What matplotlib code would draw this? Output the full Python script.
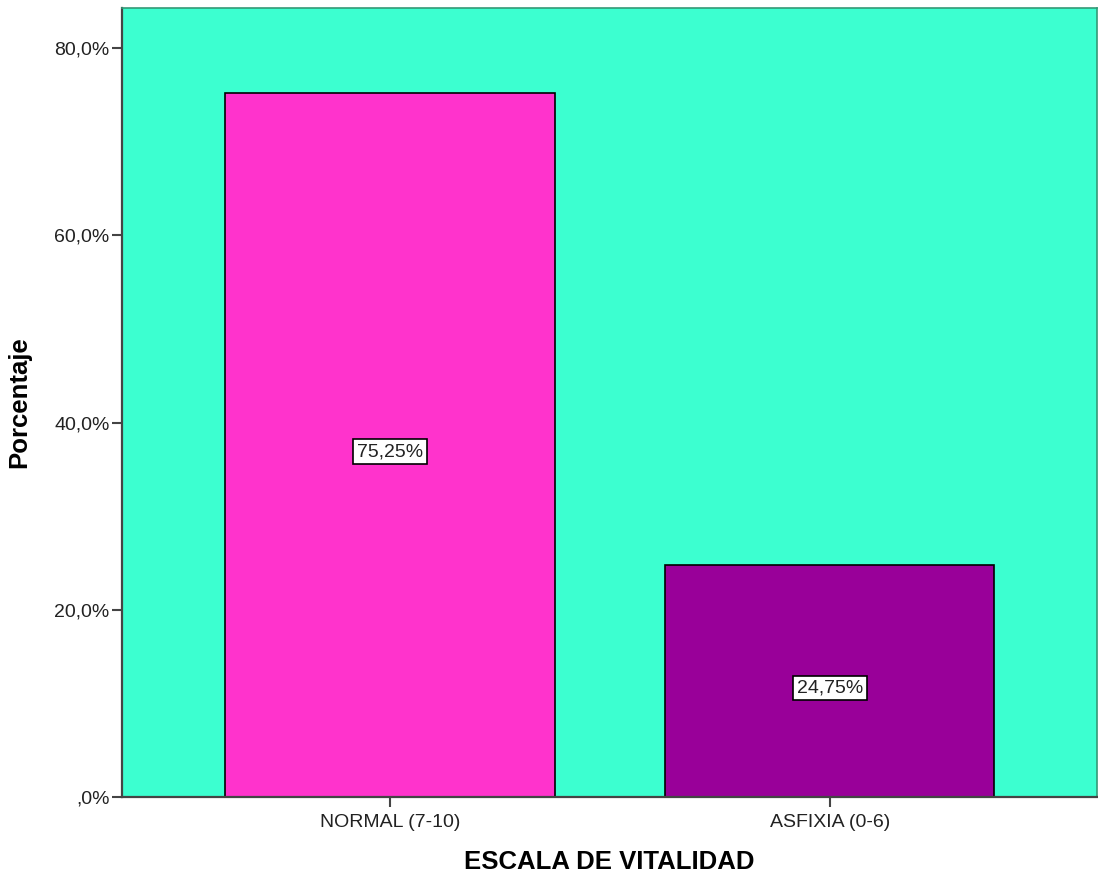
import matplotlib.pyplot as plt
import matplotlib.ticker as plticker

plt.rcParams['font.family'] = ['Liberation Sans', 'DejaVu Sans']

categories = ["NORMAL (7-10)", "ASFIXIA (0-6)"]
percentages = [75.25, 24.75]
bar_colors = ["#ff33cc", "#990099"]
y_ticks = [0, 20, 40, 60, 80]


def pct_label(v, pos=None):
    # SPSS style: comma decimal, no leading zero
    if v == 0:
        return ",0%"
    return ("%.1f%%" % v).replace(".", ",")


fig = plt.figure(figsize=(10.98, 8.76), dpi=100)
ax = fig.add_axes([0.1111, 0.0902, 0.8880, 0.9007])
ax.set_facecolor("#3cffd0")

x = range(len(categories))
bars = ax.bar(x, percentages, width=0.748, color=bar_colors,
              edgecolor="black", linewidth=1.2, zorder=2)

for xi, v in zip(x, percentages):
    ax.annotate(("%.2f%%" % v).replace(".", ","), (xi, v / 2),
                xytext=(0, -5), textcoords="offset points",
                ha="center", va="center", fontsize=14, color="#222222", zorder=3,
                bbox=dict(boxstyle="square,pad=0.2", facecolor="white",
                          edgecolor="black", linewidth=1.2))

ax.set_xlim(-0.609, 1.607)
ax.set_ylim(0, 84.3)
ax.set_xticks(list(x))
ax.set_xticklabels(categories)
ax.set_yticks(y_ticks)
ax.yaxis.set_major_formatter(plticker.FuncFormatter(pct_label))

ax.tick_params(axis="both", direction="out", length=7, width=1.5,
               color="#444444", labelsize=14, labelcolor="#222222")
ax.tick_params(axis="x", pad=5)
ax.tick_params(axis="y", pad=2)
for side in ["left", "bottom"]:
    ax.spines[side].set_color("#444444")
    ax.spines[side].set_linewidth(1.6)
for side in ["top", "right"]:
    ax.spines[side].set_color("#339977")
    ax.spines[side].set_linewidth(1.2)

ax.set_xlabel("ESCALA DE VITALIDAD", fontsize=18.5, fontweight="bold")
ax.set_ylabel("Porcentaje", fontsize=18.5, fontweight="bold")
ax.xaxis.set_label_coords(0.4995, -0.067)
ax.yaxis.set_label_coords(-0.093, 0.5)

fig.savefig("out.png", dpi=100)
